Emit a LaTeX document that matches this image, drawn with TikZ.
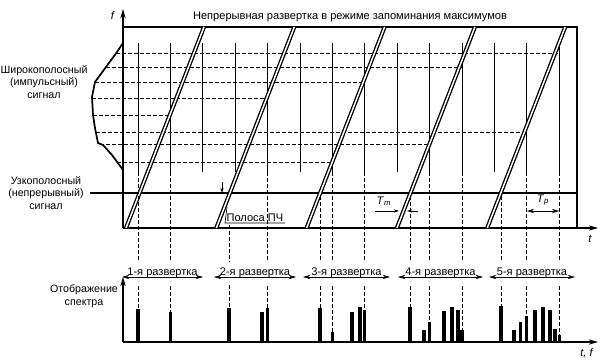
\documentclass[tikz,border=0pt]{standalone}
\usepackage{fontspec}
\setmainfont{Liberation Sans}
\usetikzlibrary{arrows.meta, positioning, calc}

\begin{document}
\begin{tikzpicture}[
    x=0.75pt, y=-0.75pt,
    font=\fontsize{8.3}{9.6}\selectfont,
    axis/.style={line width=0.8pt, -{Stealth[length=7pt, width=4pt]}},
    frame/.style={line width=0.8pt},
    pulse/.style={line width=0.7pt},
    level/.style={line width=0.5pt, dash pattern=on 3pt off 1.5pt},
    envelope/.style={line width=1.3pt, line join=round},
    narrow/.style={line width=1.8pt},
    sweep/.style={line width=1pt, double=white, double distance=1.1pt},
    bar/.style={line width=2.3pt},
    span/.style={line width=0.5pt, {Stealth[length=5.5pt, width=3.2pt]}-{Stealth[length=5.5pt, width=3.2pt]}},
    marker/.style={line width=0.5pt, -{Stealth[length=4pt, width=2.5pt]}},
    tag/.style={fill=white, inner sep=1.5pt},
    side/.style={align=center, font=\fontsize{8}{9.4}\selectfont}
]
\useasboundingbox (0,0) rectangle (603,363);

% Axes and frame
\coordinate (O) at (123,228);
\coordinate (ftop) at (123,9);
\coordinate (tend) at (598,228);
\coordinate (S) at (123,342);
\coordinate (stop) at (123,277);
\coordinate (send) at (598,342);
\draw[frame] (123,27) -- (577,27) -- (577,228);
\draw[axis] (O) -- (ftop);
\draw[axis] (O) -- (tend);
\node (flabel) at (113,15) {\textit{f}};
\node (tlabel) at (590,239) {\textit{t}};
\node (title) at (350,17) {Непрерывная развертка в режиме запоминания максимумов};

% Pulses of the wideband signal
\foreach \i in {0,...,13}
    \draw[pulse] ({138+32.4*\i},43) -- ({138+32.4*\i},172);

% Spectrum of the wideband signal
\draw[envelope] (123,43) -- (117,52) -- (95,82) -- (92,97) -- (93,115) -- (95,128)
    -- (98,143) -- (103,145) -- (112,155) -- (123,170);
\foreach \y/\xa/\xb in {53/116/559.2, 67/106/462, 82/95/364.8, 98/92/267.6,
    115/93/170.4, 132/96/526.8, 144/100/429.6, 162/117/332.4}
    \draw[level] (\xa,\y) -- (\xb,\y);

% Narrowband signal
\draw[narrow] (90,193) -- (577,193);
\node[side] (wide) at (44,82) {Широкополосный\\(импульсный)\\сигнал};
\node[side] (nb) at (46,193) {Узкополосный\\(непрерывный)\\сигнал};

% Sweeps
\foreach \k in {0,...,4}
    \draw[sweep] ({126+90.3*\k},228) -- ({204+90.3*\k},27);

% Projections to the display
\foreach \x/\ya/\yb in {138/172/309, 170.4/172/312, 229/225/308, 267.6/172/308,
    320/196/308, 332.4/172/332, 364.8/172/310, 410/196/307, 429.6/172/322,
    462/172/330, 501/196/306, 526.8/172/316, 559.2/172/335}
    \draw[level] (\x,\ya) -- (\x,\yb);

% IF band, Tm, Tp
\node[anchor=south west, inner sep=1pt] (if) at (225,223) {Полоса ПЧ};
\draw[line width=0.5pt] (if.south east) -- (if.south west) -- (227,207);
\draw[marker] (222,182) -- (222,193);
\node (tm) at (384,201) {\textit{T}\textsubscript{\textit{m}}};
\coordinate (tma) at (375,211);
\coordinate (tmb) at (399,211);
\coordinate (tmc) at (418,211);
\coordinate (tmd) at (407,211);
\draw[marker] (tma) -- (tmb);
\draw[marker] (tmc) -- (tmd);
\node (tp) at (543,200) {\textit{T}\textsubscript{\textit{p}}};
\coordinate (tpa) at (526.8,211);
\coordinate (tpb) at (559.2,211);
\draw[span] (tpa) -- (tpb);

% Sweep periods
\foreach \a/\b/\n in {122/203/1, 214/296/2, 303/390/3, 398/483/4, 489/575/5} {
    \coordinate (p\n a) at (\a,277);
    \coordinate (p\n b) at (\b,277);
    \node[tag, minimum height=17pt] (p\n) at ({(\a+\b)/2},273) {\n-я развертка};
    \draw[span] (p\n a) -- (p\n b);
}

% Display
\draw[axis] (S) -- (stop);
\draw[axis] (S) -- (send);
\node[side] (disp) at (84,296) {Отображение\\спектра};
\node (tflabel) at (587,353) {\textit{t, f}};
\foreach \x/\h in {138/309, 170.4/312,
    229/308, 262/312, 267.6/308,
    320/308, 332.4/332, 352/312, 360/307, 364.8/310,
    410/307, 424/330, 429.6/322, 444/311, 452/307, 458/310, 462/330,
    501/306, 514/330, 520.5/322, 526.8/316, 535/310, 543/307, 550/310, 555/329, 559.2/335}
    \draw[bar] (\x,342) -- (\x,\h);

\end{tikzpicture}
\end{document}
